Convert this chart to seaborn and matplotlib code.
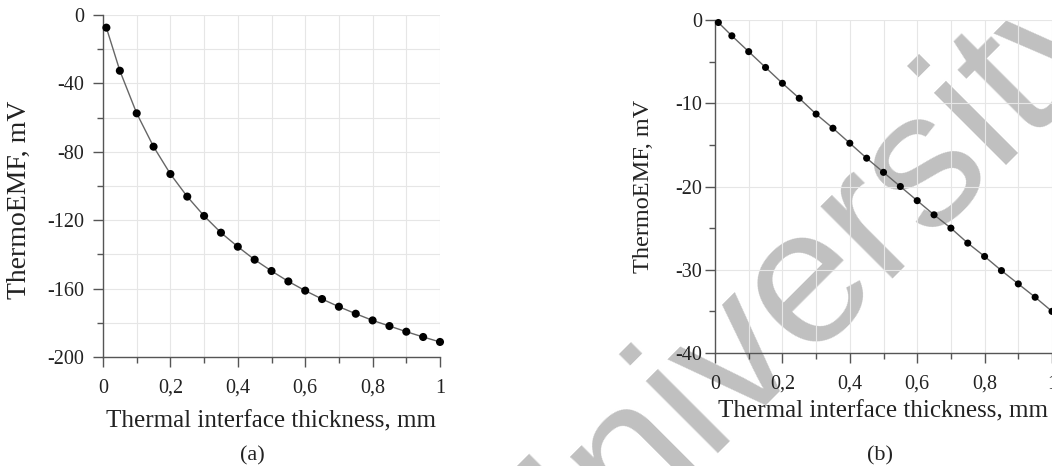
import numpy as np
import pandas as pd
import seaborn as sns
import matplotlib
matplotlib.use("Agg")
import matplotlib.pyplot as plt
from matplotlib.ticker import MultipleLocator, FuncFormatter

# values
thickness = [0.01, 0.05, 0.10, 0.15, 0.20, 0.25, 0.30, 0.35, 0.40, 0.45, 0.50,
             0.55, 0.60, 0.65, 0.70, 0.75, 0.80, 0.85, 0.90, 0.95, 1.00]
emf_a = [-7.4, -32.6, -57.5, -77.0, -93.0, -106.2, -117.5, -127.3, -135.5, -143.1, -149.7,
         -155.8, -161.2, -166.1, -170.6, -174.7, -178.6, -181.9, -185.2, -188.3, -191.2]
emf_b = [-0.3, -1.9, -3.8, -5.7, -7.6, -9.4, -11.3, -13.0, -14.8, -16.6, -18.3,
         -20.0, -21.7, -23.4, -25.0, -26.8, -28.4, -30.1, -31.7, -33.3, -35.0]

xlabel = "Thermal interface thickness, mm"
ylabel = "ThermoEMF, mV"

df = pd.DataFrame({"x": thickness, "a": emf_a, "b": emf_b})

sns.set_style("ticks")
plt.rcParams["font.family"] = ["Liberation Serif", "DejaVu Serif"]
plt.rcParams["axes.unicode_minus"] = False

fig = plt.figure(figsize=(10.52, 4.66), dpi=100)
fig.patch.set_facecolor("white")

ax_a = fig.add_axes([103 / 1052, 1 - 357 / 466, 337 / 1052, 342 / 466])
ax_b = fig.add_axes([715 / 1052, 1 - 353 / 466, 337 / 1052, 333 / 466])


def comma_fmt(v, pos):
    if abs(v) < 1e-9:
        return "0"
    return f"{v:g}".replace(".", ",")


def style_axes(ax, ymin, ymax, ymaj, ymin_step, ygrid_minor, xpad, ypad):
    ax.set_facecolor("none")
    ax.set_xlim(0, 1)
    ax.set_ylim(ymin, ymax)
    ax.xaxis.set_major_locator(MultipleLocator(0.2))
    ax.xaxis.set_minor_locator(MultipleLocator(0.1))
    ax.yaxis.set_major_locator(MultipleLocator(ymaj))
    ax.yaxis.set_minor_locator(MultipleLocator(ymin_step))
    ax.xaxis.set_major_formatter(FuncFormatter(comma_fmt))
    ax.yaxis.set_major_formatter(FuncFormatter(comma_fmt))
    ax.grid(which="major", color="#e6e6e6", lw=0.8)
    ax.grid(which="minor", axis="x", color="#e6e6e6", lw=0.8)
    if ygrid_minor:
        ax.grid(which="minor", axis="y", color="#e6e6e6", lw=0.8)
    ax.set_axisbelow(True)
    for s in ["top", "right"]:
        ax.spines[s].set_visible(False)
    for s in ["left", "bottom"]:
        ax.spines[s].set_color("#555555")
        ax.spines[s].set_linewidth(1.0)
    ax.tick_params(which="major", direction="out", length=7.5, width=1.0,
                   color="#555555", labelsize=14.5, labelcolor="#222222")
    ax.tick_params(axis="x", which="major", pad=xpad)
    ax.tick_params(axis="y", which="major", pad=ypad)
    ax.tick_params(which="minor", direction="out", length=4, width=1.0, color="#555555")


# panel (a)
sns.lineplot(data=df, x="x", y="a", ax=ax_a, color="#666666", lw=1.0, zorder=3)
sns.scatterplot(data=df, x="x", y="a", ax=ax_a, color="black", s=34,
                edgecolor="none", zorder=4, clip_on=False)
style_axes(ax_a, -200, 0, 40, 20, True, 8, 6)
ax_a.set_xlabel(xlabel, fontsize=18, color="#222222", labelpad=9)
ax_a.set_ylabel(ylabel, fontsize=20, color="#222222")
ax_a.yaxis.set_label_coords(-0.211, 0.46)

# panel (b)
sns.lineplot(data=df, x="x", y="b", ax=ax_b, color="#666666", lw=1.0, zorder=3)
sns.scatterplot(data=df, x="x", y="b", ax=ax_b, color="black", s=26,
                edgecolor="none", zorder=4, clip_on=False)
style_axes(ax_b, -40, 0, 10, 5, False, 8, 2)
ax_b.set_xlabel(xlabel, fontsize=18, color="#222222", labelpad=5)
ax_b.set_ylabel(ylabel, fontsize=17.5, color="#222222")
ax_b.yaxis.set_label_coords(-0.182, 0.5)

fig.text(252 / 1052, 1 - 456 / 466, "(a)", fontsize=16, ha="center", va="center", color="#222222")
fig.text(880 / 1052, 1 - 456 / 466, "(b)", fontsize=16, ha="center", va="center", color="#222222")

# watermark behind the plots
fig.text(795 / 1052, 1 - 291 / 466, "University", fontsize=139, rotation=45,
         rotation_mode="anchor", ha="center", va="center", color="#c0c0c0",
         family=["Liberation Sans", "DejaVu Sans"], zorder=-5)

fig.savefig("out.png", dpi=100, facecolor="white")
